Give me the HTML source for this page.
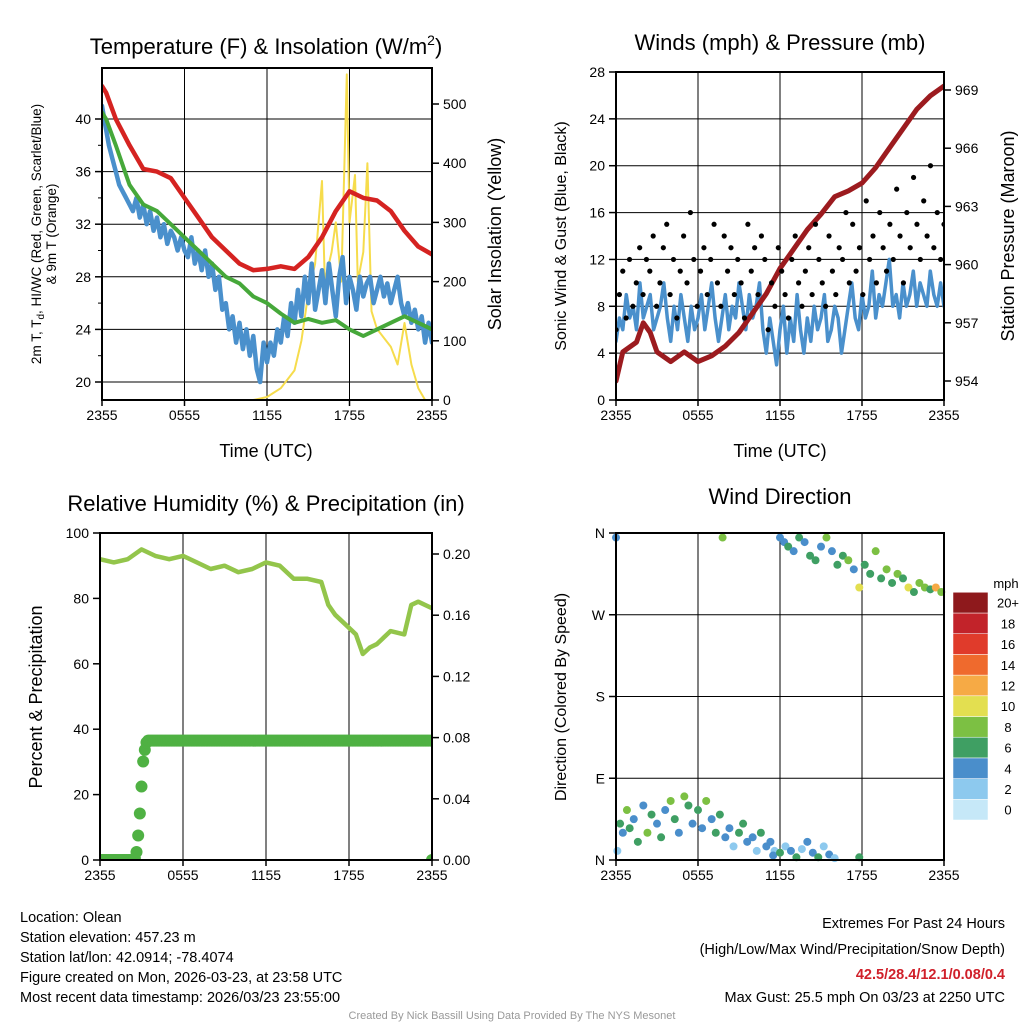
<!DOCTYPE html>
<html><head><meta charset="utf-8">
<style>
body{margin:0;background:#fff;}
svg{display:block;font-family:"Liberation Sans",sans-serif;}
</style></head>
<body>
<svg id="c" width="1024" height="1024" viewBox="0 0 1024 1024"></svg>
<script>
// ---------- data ----------
const timeTicks = ["2355","0555","1155","1755","2355"];
const tempTicks = [20,24,28,32,36,40];
const solarTicks = [0,100,200,300,400,500];
const windTicks = [0,4,8,12,16,20,24,28];
const presTicks = [954,957,960,963,966,969];
const rhTicks = [0,20,40,60,80,100];
const precipTicks = [0,0.04,0.08,0.12,0.16,0.20];
const dirTicks = ["N","E","S","W","N"];
const cbarLabels = ["0","2","4","6","8","10","12","14","16","18","20+"];
const cbarColors = ["#c6e8f8","#8dc9ee","#4a8ecb","#3f9f63","#7cc043","#e3df50","#f6aa45","#ef6a2d","#e03b2b","#c2232a","#8e191c"];

const tempHours = [0,0.3,1,2,3,4,5,6,7,8,9,10,11,12,13,14,15,16,17,18,19,20,21,22,23,24];
const tempRed = [42.5,42,40,38,36.2,36,35.5,34,32.5,31,30,29,28.5,28.6,28.8,28.6,29.5,31,33,34.5,34,33.8,33,31.5,30.3,29.7];
const tempGreen = [40.5,40,38,35,33.5,33,32,31,30,29,28,27.5,26.5,26,25.2,24.5,24.8,24.5,24.7,24,23.5,24,24.5,25,24.5,24];
const dewBlue = [41,39.5,38,37,36,35,34.5,34,33.5,33,34,32.5,33.5,32,33,31.5,32.5,31,32,30.5,31.5,31,30,31,30,29.5,31,29,30,28.5,30,28,29,27,28,25.5,26,24,25,23,24.5,22.5,24,22,23.5,21,20,23,21.5,23,22,24,23,25,23.5,26,24.5,27,25,28,26,29,25.5,27,28.5,26,29,27,25,28,29.5,26,28,27,25.5,28,26.5,27.5,28,26,27,28,26.5,27.5,26,27,28,26,25,26,24.5,25.5,24,25,23,24.5,23];
const solarHours = [0,11,12,13,14,14.5,15,15.5,16,16.2,16.7,17,17.4,17.8,18,18.4,18.6,19,19.3,19.6,20,21,21.5,22,22.5,23,23.5,24];
const solarVals = [0,0,5,20,50,100,180,230,370,200,250,300,200,550,300,380,200,250,400,150,120,90,60,130,60,20,0,0];

const presHours = [0,0.5,1.5,2,2.5,3,4,5,6,7,8,9,10,11,12,13,14,15,16,17,18,19,20,21,22,23,24];
const presVals = [954,955.5,956,957,956.5,955.5,955,955.5,955,955.3,955.8,956.5,957.5,958.5,959.8,960.8,961.8,962.6,963.5,963.8,964.2,965,966,967,968,968.7,969.2];
const windVals = [5,7,6,9,7,8,6,10,7,8,9,6,7,8,10,7,5,8,6,9,7,5,8,6,7,9,6,8,10,7,5,7,9,6,8,7,10,8,6,9,7,8,10,6,4,7,5,3,6,8,4,7,5,9,6,4,7,5,8,6,7,9,5,6,8,7,4,6,8,10,7,6,9,7,8,11,7,9,8,10,12,8,9,7,10,8,9,11,8,10,9,8,11,9,8,10,8];
const gustVals = [6,9,11,7,12,8,10,13,9,12,11,14,8,10,13,15,9,12,7,11,14,10,16,12,8,11,13,9,12,15,10,8,14,11,13,9,12,10,7,15,11,13,9,14,12,6,10,8,13,11,9,7,12,14,10,8,11,13,9,15,12,10,8,14,11,9,13,12,16,10,15,11,13,9,17,12,14,10,16,13,11,15,12,18,14,10,16,13,19,15,12,17,14,20,13,16,12,15];

const rhHours = [0,1,2,3,4,5,6,7,8,9,10,11,12,13,14,15,16,16.5,17,18,18.5,19,19.5,20,21,22,22.5,23,24];
const rhVals = [92,91,92,95,93,92,93,91,89,90,88,89,91,90,86,86,85,78,75,71,69,63,65,66,70,69,78,79,77];
const precipHours = [0,0.5,1,1.5,2,2.4,2.6,2.7,2.8,2.9,3.0,3.1,3.2,3.3,3.4,24];
const precipVals = [0,0,0,0,0,0,0.002,0.01,0.02,0.033,0.048,0.063,0.07,0.075,0.078,0.078];

const dirHours = [0,0.1,0.3,0.5,0.8,1,1.3,1.6,2,2.3,2.6,3,3.3,3.6,4,4.3,4.6,5,5.3,5.6,6,6.3,6.6,7,7.3,7.6,8,8.3,8.6,9,9.3,9.6,10,10.3,10.6,11,11.3,11.6,12,12.3,12.6,13,13.4,13.8,14.2,14.6,15,15.4,15.8,16.2,16.6,17,17.4,17.8,18.2,18.6,19,19.4,19.8,20.2,20.6,21,21.4,21.8,22.2,22.6,23,23.4,23.8,11.5,12,12.4,12.8,13.2,13.6,14,14.4,14.8,15.2,15.6,16,17.8,7.8];
const dirVals = [355,10,40,30,55,35,45,20,60,30,50,40,25,55,65,45,30,70,60,40,55,35,65,45,30,50,25,35,15,30,40,20,25,10,30,15,20,10,355,350,345,340,355,350,335,330,345,355,340,325,335,330,320,300,325,315,340,310,320,305,315,310,300,295,305,300,298,300,295,5,8,15,10,3,12,20,8,3,15,6,2,3,355];
const dirSpeeds = [4,3,6,5,8,6,4,7,5,8,6,4,7,5,9,6,4,8,7,5,6,4,8,5,7,6,4,5,2,6,7,5,4,3,6,5,4,3,4,5,6,4,6,5,7,6,5,8,4,6,7,8,5,10,7,6,8,7,9,6,8,7,11,6,8,9,7,12,8,5,6,2,4,7,3,5,4,6,3,5,2,6,8];

const NS='http://www.w3.org/2000/svg';
const svg=document.getElementById('c');
function mk(tag,attrs,parent,text){const e=document.createElementNS(NS,tag);for(const k in attrs)e.setAttribute(k,attrs[k]);if(text!==undefined)e.textContent=text;(parent||svg).appendChild(e);return e;}
function lin(d0,d1,r0,r1){return v=>r0+(v-d0)*(r1-r0)/(d1-d0);}

function panel(name){
  const g=mk('g',{});
  
  
  return g;
}
function clipG(g,id,x0,y0,x1,y1){
  const cp=mk('clipPath',{id:id},g);
  mk('rect',{x:x0,y:y0,width:x1-x0,height:y1-y0},cp);
  return mk('g',{'clip-path':'url(#'+id+')'},g);
}
function frame(g,x0,y0,x1,y1){
  const r=mk('rect',{x:x0,y:y0,width:x1-x0,height:y1-y0,fill:'none',stroke:'#000','stroke-width':2},g);
  
  
}
function xAxis(g,sx,y0,y1,labels){
  labels.forEach((l,i)=>{const x=sx(i*6);
    mk('line',{x1:x,x2:x,y1:y0,y2:y1,stroke:'#000','stroke-width':1},g);
    mk('line',{x1:x,x2:x,y1:y1,y2:y1+6,stroke:'#000','stroke-width':1.5},g);
    const t=mk('text',{x:x,y:y1+20,'font-size':14,'text-anchor':'middle'},g,l);
    
    
  });
}
function yAxisL(g,sy,x0,x1,ticks,fmt,grid){
  ticks.forEach(v=>{const y=sy(v);
    if(grid)mk('line',{x1:x0,x2:x1,y1:y,y2:y,stroke:'#000','stroke-width':1},g);
    mk('line',{x1:x0-7,x2:x0,y1:y,y2:y,stroke:'#000','stroke-width':1.5},g);
    const t=mk('text',{x:x0-11,y:y+5,'font-size':14,'text-anchor':'end'},g,fmt(v));
    
    
  });
}
function yAxisR(g,sy,x1,ticks,fmt){
  ticks.forEach(v=>{const y=sy(v);
    mk('line',{x1:x1,x2:x1+7,y1:y,y2:y,stroke:'#000','stroke-width':1.5},g);
    const t=mk('text',{x:x1+11,y:y+5,'font-size':14,'text-anchor':'start'},g,fmt(v));
    
    
  });
}
function path(g,xs,ys,sx,sy,color,w,name){
  const d=xs.map((t,i)=>(i?'L':'M')+sx(t).toFixed(1)+','+sy(ys[i]).toFixed(1)).join('');
  const p=mk('path',{d:d,fill:'none',stroke:color,'stroke-width':w,'stroke-linejoin':'round','stroke-linecap':'round'},g);
  
  
}
function even(arr){return arr.map((v,i)=>i*24/(arr.length-1));}
function text(g,x,y,s,str,name,extra){
  const t=mk('text',Object.assign({x:x,y:y,'font-size':s,'text-anchor':'middle'},extra||{}),g,str);
  
  
  return t;
}

// ---------- Panel 1 ----------
{
 const x0=102,x1=432,y0=68,y1=400;
 const g=panel('temperature-panel');
 const sx=lin(0,24,x0,x1), sy=lin(20,40,382,119), sy2=lin(0,500,400,104);
 xAxis(g,sx,y0,y1,timeTicks);
 yAxisL(g,sy,x0,x1,tempTicks,v=>v,true);
 for(let v=22;v<42;v+=4){const y=sy(v);mk('line',{x1:x0-4,x2:x0,y1:y,y2:y,stroke:'#000'},g);}
 yAxisR(g,sy2,x1,solarTicks,v=>v);
 const c=clipG(g,'cp1',x0,y0,x1,y1);
 path(c,solarHours,solarVals,sx,sy2,'#f6dc4c',2,'solar-insolation-line');
 path(c,even(dewBlue),dewBlue,sx,sy,'#4a90cc',4.5,'dewpoint-line');
 path(c,tempHours,tempGreen,sx,sy,'#46a83a',4,'green-temp-line');
 path(c,tempHours,tempRed,sx,sy,'#d52321',4.5,'temperature-line');
 frame(g,x0,y0,x1,y1);
 const t=text(g,266,54,22,'','panel-title');
 t.innerHTML='Temperature (F) &amp; Insolation (W/m<tspan font-size="14" dy="-9">2</tspan><tspan dy="9">)</tspan>';
 text(g,266,457,18,'Time (UTC)','x-axis-title');
 const l=text(g,0,0,13.5,'','y-axis-title',{transform:'translate(41,234) rotate(-90)'});
 l.innerHTML='2m T, T<tspan font-size="10" dy="3">d</tspan><tspan dy="-3">, HI/WC (Red, Green, Scarlet/Blue)</tspan>';
 text(g,0,0,13.5,'& 9m T (Orange)','y-axis-title-line2',{transform:'translate(56,234) rotate(-90)'});
 text(g,0,0,18,'Solar Insolation (Yellow)','y2-axis-title',{transform:'translate(501,234) rotate(-90)'});
}
// ---------- Panel 2 ----------
{
 const x0=616,x1=944,y0=72,y1=400;
 const g=panel('winds-panel');
 const sx=lin(0,24,x0,x1), sy=lin(0,28,400,72), sy2=lin(954,969,381,90);
 xAxis(g,sx,y0,y1,timeTicks);
 yAxisL(g,sy,x0,x1,windTicks,v=>v,true);
 yAxisR(g,sy2,x1,presTicks,v=>v);
 const c=clipG(g,'cp2',x0,y0,x1,y1);
 path(c,even(windVals),windVals,sx,sy,'#4a90cc',3.5,'sonic-wind-line');
 path(c,presHours,presVals,sx,sy2,'#9c1b1f',5,'pressure-line');
 const gt=even(gustVals);
 gustVals.forEach((v,i)=>{const d=mk('circle',{cx:sx(gt[i]),cy:sy(v),r:2.6,fill:'#000'},c);
   
   });
 frame(g,x0,y0,x1,y1);
 text(g,780,50,22,'Winds (mph) & Pressure (mb)','panel-title');
 text(g,780,457,18,'Time (UTC)','x-axis-title');
 text(g,0,0,16,'Sonic Wind & Gust (Blue, Black)','y-axis-title',{transform:'translate(566,236) rotate(-90)'});
 text(g,0,0,18,'Station Pressure (Maroon)','y2-axis-title',{transform:'translate(1014,236) rotate(-90)'});
}
// ---------- Panel 3 ----------
{
 const x0=100,x1=432,y0=533,y1=860;
 const g=panel('humidity-panel');
 const sx=lin(0,24,x0,x1), sy=lin(0,100,860,533), sy2=lin(0,0.2,860,554);
 xAxis(g,sx,y0,y1,timeTicks);
 yAxisL(g,sy,x0,x1,rhTicks,v=>v,false);
 yAxisR(g,sy2,x1,precipTicks,v=>v.toFixed(2));
 const c=clipG(g,'cp3',x0,y0,x1,y1);
 path(c,rhHours,rhVals,sx,sy,'#93c54b',4.5,'relative-humidity-line');
 for(let t=0;t<=24.001;t+=0.12){
   let v=0;for(let i=0;i<precipHours.length-1;i++){if(t>=precipHours[i]&&t<=precipHours[i+1]){const f=(t-precipHours[i])/(precipHours[i+1]-precipHours[i]);v=precipVals[i]+f*(precipVals[i+1]-precipVals[i]);}}
   const d=mk('circle',{cx:sx(t),cy:sy2(v),r:6,fill:'#4fb143'},c);
   
   
 }
 frame(g,x0,y0,x1,y1);
 text(g,266,511,22,'Relative Humidity (%) & Precipitation (in)','panel-title');
 text(g,0,0,18,'Percent & Precipitation','y-axis-title',{transform:'translate(42,697) rotate(-90)'});
}
// ---------- Panel 4 ----------
{
 const x0=616,x1=944,y0=533,y1=860;
 const g=panel('wind-direction-panel');
 const sx=lin(0,24,x0,x1), sy=lin(0,360,860,533);
 xAxis(g,sx,y0,y1,timeTicks);
 dirTicks.forEach((l,i)=>{const y=sy(i*90);
   mk('line',{x1:x0,x2:x1,y1:y,y2:y,stroke:'#000'},g);
   mk('line',{x1:x0-7,x2:x0,y1:y,y2:y,stroke:'#000','stroke-width':1.5},g);
   const t=mk('text',{x:x0-11,y:y+5,'font-size':14,'text-anchor':'end'},g,l);
   
   });
 dirVals.forEach((d,i)=>{const b=Math.min(10,Math.floor(dirSpeeds[i]/2));
   const c=mk('circle',{cx:sx(dirHours[i]),cy:sy(d),r:4,fill:cbarColors[b]},g);
   
   });
 frame(g,x0,y0,x1,y1);
 text(g,780,504,22,'Wind Direction','panel-title');
 text(g,0,0,16,'Direction (Colored By Speed)','y-axis-title',{transform:'translate(566,697) rotate(-90)'});
 const cb=mk('g',{},g);
 
 
 text(cb,1006,588,13,'mph','colorbar-title');
 const bh=20.7;
 cbarColors.forEach((c,i)=>{const y=820-(i+1)*bh;
   mk('rect',{x:953,y:y,width:35,height:bh,fill:c,stroke:'#fff','stroke-width':0.5},cb);
   const t=mk('text',{x:1008,y:y+bh/2+5,'font-size':13,'text-anchor':'middle'},cb,cbarLabels[i]);
   
   });
}
// ---------- footer ----------
{
 const g=panel('footer');
 const L=['Location: Olean','Station elevation: 457.23 m','Station lat/lon: 42.0914; -78.4074','Figure created on Mon, 2026-03-23, at 23:58 UTC','Most recent data timestamp: 2026/03/23 23:55:00'];
 L.forEach((s,i)=>text(g,20,922+i*20,14.5,s,'station-info',{'text-anchor':'start'}));
 text(g,1005,928,14.5,'Extremes For Past 24 Hours','extremes-title',{'text-anchor':'end'});
 text(g,1005,954,14.5,'(High/Low/Max Wind/Precipitation/Snow Depth)','extremes-subtitle',{'text-anchor':'end'});
 text(g,1005,979,14.5,'42.5/28.4/12.1/0.08/0.4','extremes-values',{'text-anchor':'end',fill:'#d0202a','font-weight':'bold'});
 text(g,1005,1002,14.5,'Max Gust: 25.5 mph On 03/23 at 2250 UTC','max-gust',{'text-anchor':'end'});
 text(g,512,1019,11,'Created By Nick Bassill Using Data Provided By The NYS Mesonet','credit',{fill:'#999'});
}
</script>
</body></html>
